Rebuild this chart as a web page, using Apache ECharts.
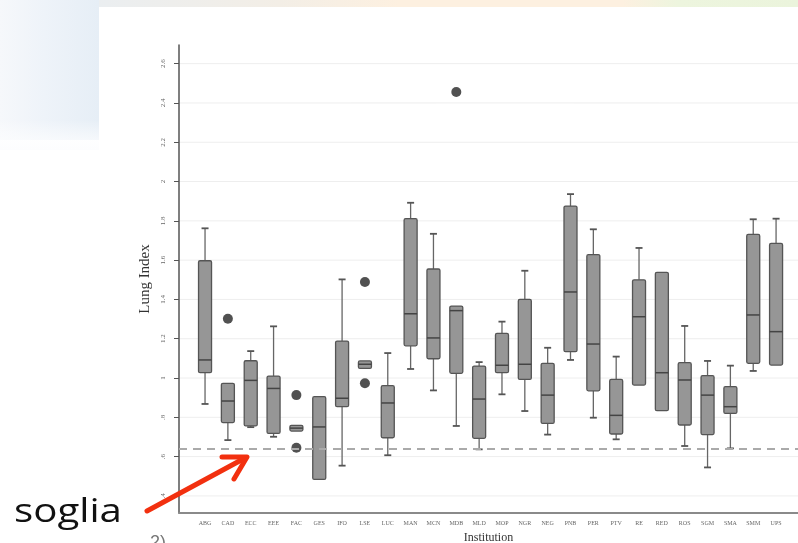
<!DOCTYPE html>
<html><head><meta charset="utf-8">
<script src="https://cdn.jsdelivr.net/npm/echarts@6/dist/echarts.min.js"></script>
<style>html,body{margin:0;padding:0;background:#fff}#c{width:798px;height:543px}</style>
</head><body><div id="c"></div>
<script>
const categories = ['ABG','CAD','ECC','EEE','FAC','GES','IFO','LSE','LUC','MAN','MCN','MDB','MLD','MOP','NGR','NEG','PNB','PER','PTV','RE','RED','ROS','SGM','SMA','SMM','UPS'];
const whiskerLow  = [0.868,0.684,0.750,0.701,0.730,0.484,0.554,1.049,0.607,1.046,0.937,0.756,0.637,0.917,0.832,0.712,1.092,0.798,0.688,0.964,0.834,0.654,0.545,0.642,1.036,1.066];
const quart1      = [1.027,0.773,0.756,0.718,0.730,0.484,0.854,1.049,0.696,1.164,1.098,1.024,0.693,1.027,0.993,0.769,1.134,0.935,0.715,0.964,0.834,0.761,0.712,0.820,1.075,1.066];
const medians     = [1.092,0.883,0.988,0.947,0.745,0.751,0.897,1.070,0.873,1.327,1.204,1.343,0.893,1.065,1.070,0.913,1.438,1.173,0.810,1.312,1.027,0.990,0.913,0.854,1.321,1.236];
const quart3      = [1.597,0.973,1.088,1.010,0.759,0.905,1.188,1.087,0.961,1.811,1.555,1.366,1.061,1.227,1.400,1.075,1.875,1.628,0.993,1.500,1.538,1.078,1.012,0.956,1.731,1.685];
const whiskerHigh = [1.762,0.973,1.137,1.263,0.759,0.905,1.502,1.087,1.127,1.892,1.734,1.366,1.081,1.287,1.546,1.154,1.936,1.757,1.109,1.662,1.538,1.265,1.087,1.063,1.808,1.811];
const outlierCats = ['CAD','FAC','FAC','LSE','LSE','MDB'];
const outlierVals = [1.302,0.913,0.645,1.489,0.973,2.456];
const yTicks = [0.4,0.6,0.8,1.0,1.2,1.4,1.6,1.8,2.0,2.2,2.4,2.6];
const threshold = 0.635;

const boxData = categories.map((c,i)=>[i, whiskerLow[i], quart1[i], medians[i], quart3[i], whiskerHigh[i]]);
const outData = outlierCats.map((c,k)=>[categories.indexOf(c), outlierVals[k]]);
const catIdx = categories.map((c,i)=>i);

const fmtY = v => { let s = (Math.round(v*10)/10).toString(); if (s.startsWith('0.')) s = s.slice(1); return s; };

const chart = echarts.init(document.getElementById('c'), null, {renderer:'canvas'});
const serif = 'Liberation Serif, DejaVu Serif, serif';
chart.setOption({
  animation:false,
  backgroundColor:'#ffffff',
  graphic:[
    {type:'rect', z:-10, shape:{x:0,y:0,width:798,height:8}, style:{fill:{type:'linear',x:0,y:0,x2:1,y2:0,colorStops:[{offset:0,color:'#e6eef6'},{offset:0.35,color:'#f3eee6'},{offset:0.5,color:'#fdf0e0'},{offset:0.78,color:'#fdf0e0'},{offset:0.85,color:'#edf5de'},{offset:1,color:'#ebf4dc'}]}}},
    {type:'rect', z:-10, shape:{x:0,y:0,width:99,height:140}, style:{fill:{type:'linear',x:0,y:0,x2:1,y2:0,colorStops:[{offset:0,color:'#f6f8fb'},{offset:0.45,color:'#eef3f9'},{offset:1,color:'#e6eef6'}]}}},
    {type:'rect', z:-10, shape:{x:0,y:120,width:99,height:30}, style:{fill:{type:'linear',x:0,y:0,x2:0,y2:1,colorStops:[{offset:0,color:'rgba(255,255,255,0)'},{offset:1,color:'#fcfdfe'}]}}},
    {type:'rect', z:-9, shape:{x:99,y:7,width:700,height:540}, style:{fill:'#ffffff'}},
    {type:'text', z:10, x:14, y:496, scaleX:1.22, style:{text:'soglia', font:'33px "Open Sans", sans-serif', fill:'#111'}},
    {type:'text', z:10, x:150, y:534, style:{text:'2)', font:'18px "Liberation Sans", sans-serif', fill:'#777'}},
    {type:'polyline', z:20, shape:{points:[[147,511],[245,458]]}, style:{stroke:'#f2300f', lineWidth:5, lineCap:'round'}},
    {type:'polyline', z:20, shape:{points:[[222,457],[247,457],[234,479]]}, style:{stroke:'#f2300f', fill:null, lineWidth:5, lineCap:'round', lineJoin:'round'}}
  ],
  grid:{left:179, right:0, top:45, bottom:30, containLabel:false, outerBoundsMode:'none'},
  xAxis:{
    type:'value', min:-1.14, max:25.96,
    name:'Institution', nameLocation:'middle', nameGap:19,
    nameTextStyle:{fontFamily:serif, fontSize:12, color:'#333'},
    axisLine:{show:true, onZero:false, lineStyle:{color:'#8a8a8a', width:2}},
    axisTick:{show:false},
    splitLine:{show:false},
    axisLabel:{customValues:catIdx, formatter:v=>categories[Math.round(v)], fontFamily:serif, fontSize:6, color:'#666', margin:7}
  },
  yAxis:{
    type:'value', min:0.313, max:2.695,
    name:'Lung Index', nameLocation:'middle', nameGap:26, nameRotate:90,
    nameTextStyle:{fontFamily:serif, fontSize:15, color:'#333'},
    axisLine:{show:true, onZero:false, lineStyle:{color:'#555', width:1.5}},
    axisTick:{show:true, customValues:yTicks, length:5, lineStyle:{color:'#555'}},
    axisLabel:{customValues:yTicks, formatter:fmtY, rotate:90, fontFamily:serif, fontSize:7, color:'#666', margin:12},
    splitLine:{show:false}
  },
  series:[
    {
      type:'custom', name:'box', data:boxData,
      encode:{x:0, y:[1,2,3,4,5]},
      renderItem:function(params, api){
        const x=api.value(0);
        const lo=api.value(1), q1=api.value(2), md=api.value(3), q3=api.value(4), hi=api.value(5);
        const pLo=api.coord([x,lo]), pQ1=api.coord([x,q1]), pMd=api.coord([x,md]), pQ3=api.coord([x,q3]), pHi=api.coord([x,hi]);
        const cx=pMd[0], bw=13, cw=7;
        const ws={stroke:'#666', lineWidth:1.3};
        const ch=[];
        if (hi-q3>0.004){
          ch.push({type:'line', shape:{x1:cx,y1:pQ3[1],x2:cx,y2:pHi[1]}, style:ws});
          ch.push({type:'line', shape:{x1:cx-cw/2,y1:pHi[1],x2:cx+cw/2,y2:pHi[1]}, style:{stroke:'#555',lineWidth:1.8}});
        }
        if (q1-lo>0.004){
          ch.push({type:'line', shape:{x1:cx,y1:pQ1[1],x2:cx,y2:pLo[1]}, style:ws});
          ch.push({type:'line', shape:{x1:cx-cw/2,y1:pLo[1],x2:cx+cw/2,y2:pLo[1]}, style:{stroke:'#555',lineWidth:1.8}});
        }
        ch.push({type:'rect', shape:{x:cx-bw/2, y:pQ3[1], width:bw, height:pQ1[1]-pQ3[1], r:1.5}, style:{fill:'#969696', stroke:'#555', lineWidth:1.3}});
        ch.push({type:'line', shape:{x1:cx-bw/2,y1:pMd[1],x2:cx+bw/2,y2:pMd[1]}, style:{stroke:'#444', lineWidth:1.5}});
        return {type:'group', children:ch};
      },
      markLine:{
        silent:true, symbol:'none', label:{show:false},
        lineStyle:{color:'#aaaaaa', type:[8,6], width:2},
        data:[{yAxis:threshold}]
      },
      z:3
    },
    {
      type:'custom', name:'grid', data:yTicks.map(v=>[v]),
      encode:{y:0},
      renderItem:function(params, api){
        const v=api.value(0);
        const p=api.coord([-1.14, v]);
        const q=api.coord([25.96, v]);
        return {type:'line', shape:{x1:p[0]+1,y1:p[1],x2:q[0],y2:q[1]}, style:{stroke:'#eeeeee', lineWidth:1}};
      },
      z:1
    },
    {
      type:'scatter', name:'outliers', data:outData, symbol:'circle', symbolSize:10,
      itemStyle:{color:'#262626'}, z:4
    }
  ]
});
</script></body></html>
